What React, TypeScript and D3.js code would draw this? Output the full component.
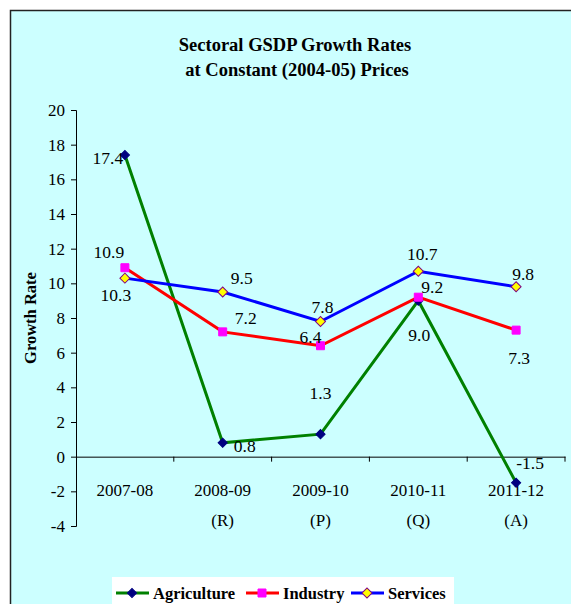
import React, { useRef, useEffect } from 'react';
import { select, scaleBand, scaleLinear, axisLeft, axisBottom, line, range, symbol, symbolSquare } from 'd3';

const categories = ['2007-08', '2008-09', '2009-10', '2010-11', '2011-12'];
const categoryNotes = ['', '(R)', '(P)', '(Q)', '(A)'];
const agriculture = [17.4, 0.8, 1.3, 9.0, -1.5];
const industry = [10.9, 7.2, 6.4, 9.2, 7.3];
const services = [10.3, 9.5, 7.8, 10.7, 9.8];
const yTicks = range(-4, 21, 2);

// label offsets from the point (Excel placed them by hand)
const agriLabelPos = [[-17, 3], [22, 3], [0, -41], [1, 34], [14, -20]];
const indLabelPos = [[-16, -16], [23, -14], [-10, -9], [14, -10], [3, 28]];
const servLabelPos = [[-9, 17], [19, -14], [2, -15], [4, -17], [7, -13]];

const series = [
    { name: 'Agriculture', values: agriculture, labels: agriLabelPos, line: '#008000', fill: '#000080', stroke: '#000080', rotate: 45, size: 42 },
    { name: 'Industry', values: industry, labels: indLabelPos, line: '#ff0000', fill: '#ff00ff', stroke: '#ff00ff', rotate: 0, size: 64 },
    { name: 'Services', values: services, labels: servLabelPos, line: '#0000ff', fill: '#ffff00', stroke: '#800080', rotate: 45, size: 50 },
];

const font = 'Liberation Serif';

export default function App() {
    const svgRef = useRef(null);

    useEffect(() => {
        const svg = select(svgRef.current);
        svg.selectAll('*').remove();

        const x = scaleBand().domain(categories).range([76, 565]);
        const y = scaleLinear().domain([-4, 20]).range([526, 110]);
        const cx = (i) => x(categories[i]) + x.bandwidth() / 2;

        svg.append('rect')
            .attr('x', 10.5).attr('y', 10.5)
            .attr('width', 620).attr('height', 640)
            .attr('fill', '#ccffff').attr('stroke', '#222').attr('stroke-width', 1.5);

        const title = svg.append('text')
            .attr('text-anchor', 'middle')
            .style('font-family', font).attr('font-weight', 'bold').attr('font-size', 18.5);
        title.append('tspan').attr('x', 295).attr('y', 51).text('Sectoral GSDP Growth Rates');
        title.append('tspan').attr('x', 297).attr('y', 76).text('at Constant (2004-05) Prices');

        svg.append('text')
            .attr('transform', 'translate(36,318) rotate(-90)')
            .attr('text-anchor', 'middle')
            .style('font-family', font).attr('font-weight', 'bold').attr('font-size', 16.5)
            .text('Growth Rate');

        const yAxis = svg.append('g')
            .attr('transform', 'translate(76,0)')
            .call(axisLeft(y).tickValues(yTicks).tickFormat(d => String(d)).tickSize(5).tickPadding(6));
        yAxis.selectAll('text').style('font-family', font).attr('font-size', 17).attr('fill', '#000');
        yAxis.select('.domain').attr('stroke', '#000');

        const xAxis = svg.append('g')
            .attr('transform', `translate(0,${y(0)})`)
            .call(axisBottom(x).tickValues([]).tickSizeOuter(0));
        xAxis.select('.domain').attr('stroke', '#000');
        xAxis.selectAll('.bt')
            .data(range(1, categories.length + 1))
            .join('line')
            .attr('class', 'bt')
            .attr('x1', i => 76 + i * x.step()).attr('x2', i => 76 + i * x.step())
            .attr('y1', 0).attr('y2', 5)
            .attr('stroke', '#000');

        const catLabels = svg.append('g')
            .style('font-family', font).attr('font-size', 17).attr('text-anchor', 'middle');
        categories.forEach((c, i) => {
            catLabels.append('text').attr('x', cx(i)).attr('y', 496).text(c);
            catLabels.append('text').attr('x', cx(i)).attr('y', 526).text(categoryNotes[i]);
        });

        const lineGen = line()
            .x((d, i) => cx(i))
            .y(d => y(d));

        series.forEach(s => {
            svg.append('path')
                .datum(s.values)
                .attr('d', lineGen)
                .attr('fill', 'none')
                .attr('stroke', s.line)
                .attr('stroke-width', 3);
        });

        series.forEach(s => {
            svg.append('g')
                .selectAll('path')
                .data(s.values)
                .join('path')
                .attr('transform', (d, i) => `translate(${cx(i)},${y(d)}) rotate(${s.rotate})`)
                .attr('d', symbol().type(symbolSquare).size(s.size))
                .attr('fill', s.fill)
                .attr('stroke', s.stroke)
                .attr('stroke-width', 1);
        });

        series.forEach(s => {
            svg.append('g')
                .style('font-family', font).attr('font-size', 17.5).attr('text-anchor', 'middle')
                .selectAll('text')
                .data(s.values)
                .join('text')
                .attr('x', (d, i) => cx(i) + s.labels[i][0])
                .attr('y', (d, i) => y(d) + s.labels[i][1])
                .attr('dy', '0.35em')
                .text(d => d.toFixed(1));
        });

        // legend
        const legend = svg.append('g');
        legend.append('rect')
            .attr('x', 112).attr('y', 577).attr('width', 342).attr('height', 40)
            .attr('fill', '#fff');
        const legendX = [116, 246, 351];
        series.forEach((s, i) => {
            const g = legend.append('g').attr('transform', `translate(${legendX[i]},593)`);
            g.append('line').attr('x1', 0).attr('x2', 33).attr('stroke', s.line).attr('stroke-width', 3);
            g.append('path')
                .attr('transform', `translate(16,0) rotate(${s.rotate})`)
                .attr('d', symbol().type(symbolSquare).size(s.size))
                .attr('fill', s.fill).attr('stroke', s.stroke);
            g.append('text')
                .attr('x', 37).attr('dy', '0.35em')
                .style('font-family', font).attr('font-weight', 'bold').attr('font-size', 16.5)
                .text(s.name);
        });
    }, []);

    return (
        <svg ref={svgRef} width={571} height={604}
            style={{ position: 'absolute', left: 0, top: 0, display: 'block' }} />
    );
}
